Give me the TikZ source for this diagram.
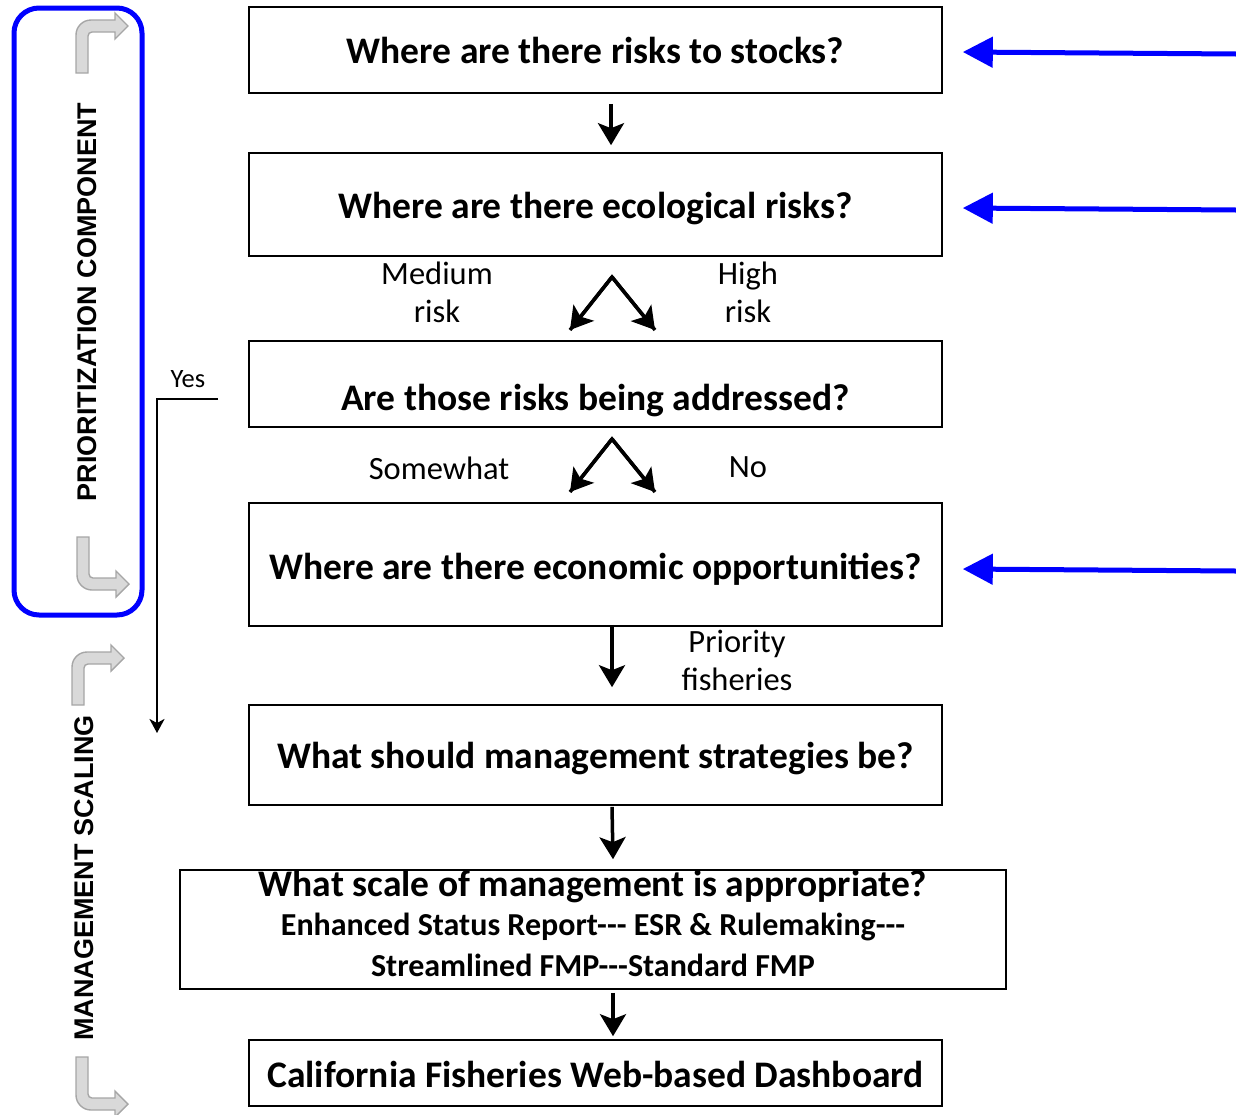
\documentclass[tikz,border=0pt]{standalone}
\usepackage{fontspec}
\setmainfont{Carlito}
\newfontfamily\arialf{Liberation Sans}
\usetikzlibrary{arrows.meta}
\definecolor{pureblue}{RGB}{0,0,255}
\tikzset{
  qbox/.style={draw=black, line width=1.6pt, minimum width=693pt, inner sep=0pt},
  qtext/.style={font=\fontsize{37.5}{40}\selectfont\bfseries, inner sep=0pt},
  subtext/.style={font=\fontsize{32}{34}\selectfont\bfseries, inner sep=0pt},
  lbl/.style={font=\fontsize{32.5}{38}\selectfont, align=center, inner sep=0pt},
  blk/.style={line width=3.5pt, -{Stealth[length=22pt, width=26pt, inset=5pt]}},
  blu/.style={draw=pureblue, line width=5pt, -{Triangle[length=30pt, width=30pt]}},
  side/.style={font=\fontsize{27}{30}\selectfont\arialf\bfseries, rotate=90, inner sep=0pt},
  bentshape/.style={fill=black!15, draw=black!35, line width=1.4pt},
  pics/bentup/.style={code={
    \path[bentshape] (0,0) -- (0,-38) arc[start angle=180, end angle=270, radius=15]
      -- (39,-53) -- (39,-60) -- (52,-47) -- (39,-34) -- (39,-41) -- (16,-41)
      arc[start angle=270, end angle=180, radius=4] -- (12,0) -- cycle;
  }},
}
\begin{document}
\begin{tikzpicture}[x=1pt, y=-1pt]
\useasboundingbox (0,0) rectangle (1236,1114);

% boxes
\node[qbox, minimum height=86pt] (b1) at (595.5,50) {};
\node[qtext] (t1) at (595.5,50) {Where are there risks to stocks?};
\node[qbox, minimum height=103pt] (b2) at (595.5,204.5) {};
\node[qtext] (t2) at (595.5,209) {Where are there ecological risks?};
\node[qbox, minimum height=86pt] (b3) at (595.5,384) {};
\node[qtext] (t3) at (595.5,401) {Are those risks being addressed?};
\node[qbox, minimum height=123pt] (b4) at (595.5,564.5) {};
\node[qtext] (t4) at (595.5,569) {Where are there economic opportunities?};
\node[qbox, minimum height=100pt] (b5) at (595.5,755) {};
\node[qtext] (t5) at (595.5,759) {What should management strategies be?};
\node[qbox, minimum width=826pt, minimum height=119pt] (b6) at (593,929.5) {};
\node[qtext] (t6a) at (593,887) {What scale of management is appropriate?};
\node[subtext] (t6b) at (593,927) {Enhanced Status Report-{}-{}- ESR \& Rulemaking-{}-{}-};
\node[subtext] (t6c) at (593,965) {Streamlined FMP-{}-{}-Standard FMP};
\node[qbox, minimum height=66pt] (b7) at (595.5,1073) {};
\node[qtext] (t7) at (595.5,1074) {California Fisheries Web-based Dashboard};

% labels
\node[lbl] (lmed) at (437,292) {Medium\\risk};
\node[lbl] (lhigh) at (748,292) {High\\risk};
\node[lbl] (lsome) at (439,468) {Somewhat};
\node[lbl] (lno) at (748,467) {No};
\node[lbl] (lprio) at (737,660) {Priority\\fisheries};
\node[font=\fontsize{26.5}{28}\selectfont, inner sep=0pt] (lyes) at (188,379) {Yes};

% black connectors
\draw[blk] ([xshift=15.5pt,yshift=-10pt]b1.south) -- ([xshift=15.5pt,yshift=7pt]b2.north);
\coordinate (c1) at (612,277);
\coordinate (c1l) at (570,330);
\coordinate (c1r) at (655,330);
\draw[line width=3.5pt, line join=miter] (c1l) -- (c1) -- (c1r);
\draw[blk] (c1) -- (c1l);
\draw[blk] (c1) -- (c1r);
\coordinate (c2) at (612,439);
\coordinate (c2l) at (570,492);
\coordinate (c2r) at (655,492);
\draw[line width=3.5pt, line join=miter] (c2l) -- (c2) -- (c2r);
\draw[blk] (c2) -- (c2l);
\draw[blk] (c2) -- (c2r);
\draw[blk] ([xshift=16.5pt,yshift=2pt]b4.south) -- ([xshift=16.5pt,yshift=17pt]b5.north);
\draw[blk] ([xshift=16.5pt,yshift=-1pt]b5.south) -- ([xshift=20pt,yshift=10pt]b6.north);
\draw[blk] ([xshift=20pt,yshift=-3pt]b6.south) -- ([xshift=17.5pt,yshift=3pt]b7.north);

% yes connector
\coordinate (y0) at (218,399);
\coordinate (y1) at (157,399);
\coordinate (y2) at (157,733);
\draw[line width=2.8pt, -{Stealth[length=14pt, width=15pt, inset=4pt]}] (y0) -- (y1) -- (y2);

% blue arrows
\coordinate (r1) at (1236,54);
\coordinate (r2) at (1236,210);
\coordinate (r3) at (1236,571);
\draw[blu] (r1) -- ([xshift=20pt,yshift=-2pt]b1.east);
\draw[blu] (r2) -- ([xshift=20pt,yshift=-3.5pt]b2.east);
\draw[blu] (r3) -- ([xshift=20pt,yshift=-4.5pt]b4.east);

% sidebar
\draw[pureblue, line width=5pt, rounded corners=25pt] (14,8) rectangle (142,615);
\node[side] (sp) at (87,302) {PRIORITIZATION COMPONENT};
\node[side] (sm) at (84,878) {MANAGEMENT SCALING};
\pic at (76,73) {bentup};
\pic[yscale=-1] at (77,537) {bentup};
\pic at (72,705) {bentup};
\pic[yscale=-1] at (76,1057) {bentup};
\end{tikzpicture}
\end{document}
